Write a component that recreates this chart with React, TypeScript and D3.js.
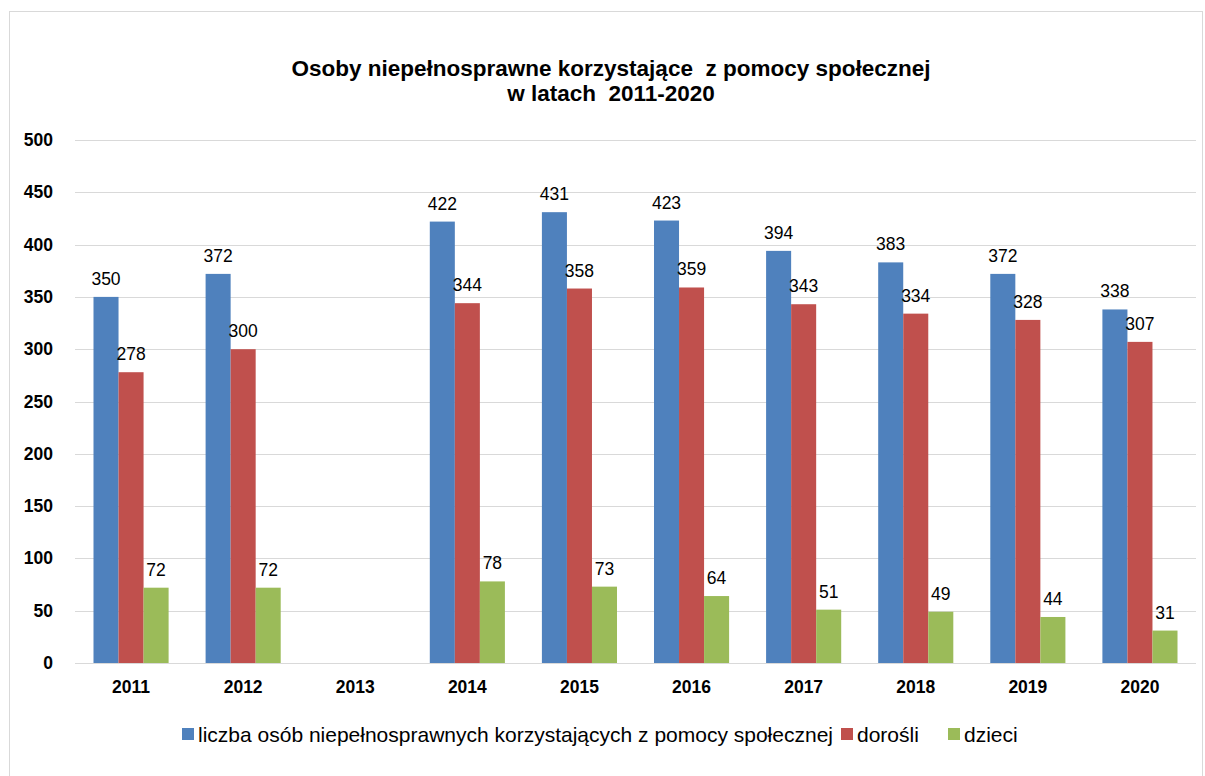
import React from "react";
import * as d3 from "d3";

const years = ["2011", "2012", "2013", "2014", "2015", "2016", "2017", "2018", "2019", "2020"];
const total: (number | null)[] = [350, 372, null, 422, 431, 423, 394, 383, 372, 338];
const adults: (number | null)[] = [278, 300, null, 344, 358, 359, 343, 334, 328, 307];
const children: (number | null)[] = [72, 72, null, 78, 73, 64, 51, 49, 44, 31];
const seriesNames = [
  "liczba osób niepełnosprawnych korzystających z pomocy społecznej",
  "dorośli",
  "dzieci",
];
const colors = ["#4F81BD", "#C0504D", "#9BBB59"];
const yTicks = [0, 50, 100, 150, 200, 250, 300, 350, 400, 450, 500];

const W = 1205;
const H = 776;
const left = 75;
const right = 1196;
const top = 140;
const bottom = 663;
const font = "Arial, 'Liberation Sans', sans-serif";

export default function App() {
  const series = [total, adults, children];
  const x = d3.scaleBand<string>().domain(years).range([left, right]).paddingInner(0.33).paddingOuter(0.165);
  const x1 = d3.scaleBand<number>().domain([0, 1, 2]).range([0, x.bandwidth()]);
  const y = d3.scaleLinear().domain([0, 500]).range([bottom, top]);

  const legendX = [182, 841, 948];

  return (
    <svg width={W} height={H} style={{ position: "absolute", left: 0, top: 0 }} fontFamily={font}>
      <rect x={0} y={0} width={W} height={H} fill="#fff" />
      <rect x={9.5} y={11.5} width={1193} height={770} fill="#fff" stroke="#d9d9d9" strokeWidth={1} />
      <text x={611} y={76} textAnchor="middle" fontSize={22.5} fontWeight="bold" fill="#000" style={{ whiteSpace: "pre" }}>
        {"Osoby niepełnosprawne korzystające  z pomocy społecznej"}
      </text>
      <text x={611} y={101} textAnchor="middle" fontSize={22.5} fontWeight="bold" fill="#000" style={{ whiteSpace: "pre" }}>
        {"w latach  2011-2020"}
      </text>
      {yTicks.map((t) => (
        <g key={t}>
          <line x1={left} x2={right} y1={Math.round(y(t)) + 0.5} y2={Math.round(y(t)) + 0.5} stroke="#d9d9d9" strokeWidth={1} />
          <text x={53} y={y(t) + 6} textAnchor="end" fontSize={17.5} fontWeight="bold" fill="#000">
            {t}
          </text>
        </g>
      ))}
      {years.map((yr, i) => (
        <g key={yr}>
          {series.map((s, si) => {
            const v = s[i];
            if (v == null) return null;
            const bx = (x(yr) as number) + (x1(si) as number);
            const bw = x1.bandwidth();
            return (
              <g key={si}>
                <rect x={bx} y={y(v)} width={bw} height={bottom - y(v)} fill={colors[si]} />
                <text x={bx + bw / 2} y={y(v) - 12} textAnchor="middle" fontSize={17.5} fill="#000">
                  {v}
                </text>
              </g>
            );
          })}
          <text x={(x(yr) as number) + x.bandwidth() / 2} y={693} textAnchor="middle" fontSize={17.5} fontWeight="bold" fill="#000">
            {yr}
          </text>
        </g>
      ))}
      {seriesNames.map((n, i) => (
        <g key={n}>
          <rect x={legendX[i]} y={728} width={12} height={12} fill={colors[i]} />
          <text x={legendX[i] + 16} y={742} fontSize={21} fill="#000">
            {n}
          </text>
        </g>
      ))}
    </svg>
  );
}
